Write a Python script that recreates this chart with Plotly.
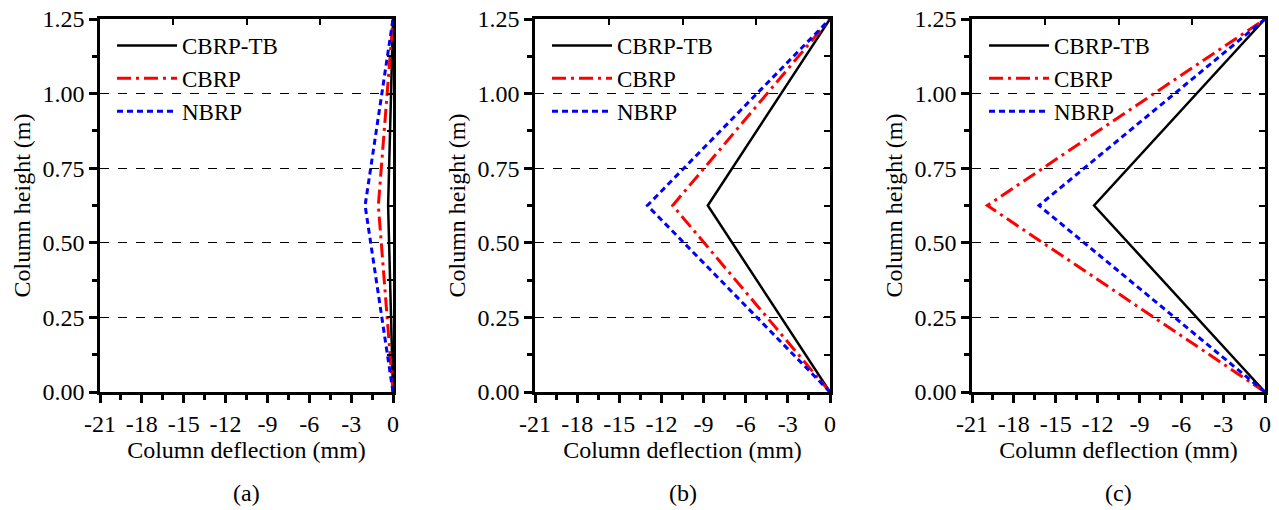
import plotly.graph_objects as go

# ---- data ----
heights = [0.0, 0.625, 1.25]
series_names = ["CBRP-TB", "CBRP", "NBRP"]
panel_labels = ["(a)", "(b)", "(c)"]
# peak deflection (mm) at mid-height for each panel
peak_a = [-0.35, -1.05, -2.0]
peak_b = [-8.7, -11.2, -13.0]
peak_c = [-12.25, -19.9, -16.2]
x_tickvals = [-21, -18, -15, -12, -9, -6, -3, 0]
x_ticktext = ["-21", "-18", "-15", "-12", "-9", "-6", "-3", "0"]
y_tickvals = [0.0, 0.25, 0.5, 0.75, 1.0, 1.25]
top_tickvals = [-15.75, -10.5, -5.25]
right_tickvals = [0.125, 0.25, 0.375, 0.5, 0.625, 0.75, 0.875, 1.0, 1.125]

colors = ["black", "red", "blue"]
dashes = ["solid", "14px,5px,3px,5px", "6px,4px"]
widths = [2.5, 3, 3]

W, H = 1279, 510
FONT = "Liberation Serif"
xdoms = [(100, 393), (535, 830), (972, 1265)]
ytop, ybot = 19, 392
ydom = [(H - ybot) / H, (H - ytop) / H]

fig = go.Figure()
peaks = [peak_a, peak_b, peak_c]
for p in range(3):
    sx = "" if p == 0 else str(p + 1)
    for s in range(3):
        xs = [0.0, peaks[p][s], 0.0]
        fig.add_trace(go.Scatter(
            x=xs, y=heights, mode="lines", name=series_names[s],
            line=dict(color=colors[s], dash=dashes[s], width=widths[s]),
            xaxis="x" + sx, yaxis="y" + sx,
            legend="legend" + sx,
        ))
    ox = str(p + 4)
    fig.add_trace(go.Scatter(x=[], y=[], xaxis="x" + ox, yaxis="y" + ox,
                             showlegend=False, hoverinfo="skip"))

layout = dict(
    width=W, height=H, margin=dict(l=0, r=0, t=0, b=0, autoexpand=False),
    paper_bgcolor="white", plot_bgcolor="white",
    font=dict(family=FONT, size=22, color="black"),
    showlegend=True,
)
annotations = []
for p in range(3):
    sx = "" if p == 0 else str(p + 1)
    ox = str(p + 4)
    d = [xdoms[p][0] / W, xdoms[p][1] / W]
    layout["xaxis" + sx] = dict(
        domain=d, range=[-21, 0], anchor="y" + sx, automargin=False,
        tickvals=x_tickvals, ticktext=x_ticktext,
        ticks="outside", ticklen=8, tickwidth=2.5, tickcolor="black",
        minor=dict(dtick=1.5, ticks="outside", ticklen=5, tickwidth=2.5, tickcolor="black"),
        showline=True, linewidth=2.5, linecolor="black", mirror=True,
        showgrid=False, zeroline=False,
        title=dict(text="Column deflection (mm)", font=dict(size=24), standoff=2),
        tickfont=dict(size=24),
    )
    layout["yaxis" + sx] = dict(
        domain=ydom, range=[0, 1.25], anchor="x" + sx, automargin=False,
        tickvals=y_tickvals, tickformat=".2f",
        ticks="outside", ticklen=8, tickwidth=2.5, tickcolor="black",
        minor=dict(dtick=0.125, ticks="outside", ticklen=5, tickwidth=2.5, tickcolor="black"),
        showline=True, linewidth=2.5, linecolor="black", mirror=True,
        showgrid=True, gridcolor="black", griddash="dash", gridwidth=1,
        zeroline=False,
        title=dict(text="Column height (m)", font=dict(size=24), standoff=6),
        tickfont=dict(size=24),
    )
    layout["xaxis" + ox] = dict(
        overlaying="x" + sx, side="top", range=[-21, 0], anchor="y" + ox,
        automargin=False,
        tickvals=top_tickvals, ticks="inside", ticklen=6, tickwidth=2,
        tickcolor="black", showticklabels=False, showline=False,
        showgrid=False, zeroline=False,
    )
    layout["yaxis" + ox] = dict(
        overlaying="y" + sx, side="right", range=[0, 1.25], anchor="x" + ox,
        automargin=False,
        tickvals=right_tickvals, ticks="inside", ticklen=6, tickwidth=2,
        tickcolor="black", showticklabels=False, showline=False,
        showgrid=False, zeroline=False,
    )
    layout["legend" + sx] = dict(
        x=(xdoms[p][0] + 12) / W, y=(H - 24) / H, xanchor="left", yanchor="top",
        bgcolor="rgba(0,0,0,0)", borderwidth=0,
        font=dict(family=FONT, size=23, color="black"),
        tracegroupgap=0, itemwidth=60,
    )
    annotations.append(dict(
        text=panel_labels[p], x=(xdoms[p][0] + xdoms[p][1]) / 2 / W,
        y=(H - 493) / H, xref="paper", yref="paper", showarrow=False,
        xanchor="center", yanchor="middle",
        font=dict(family=FONT, size=24, color="black"),
    ))
layout["annotations"] = annotations
fig.update_layout(**layout)
fig.write_html("out.html")
